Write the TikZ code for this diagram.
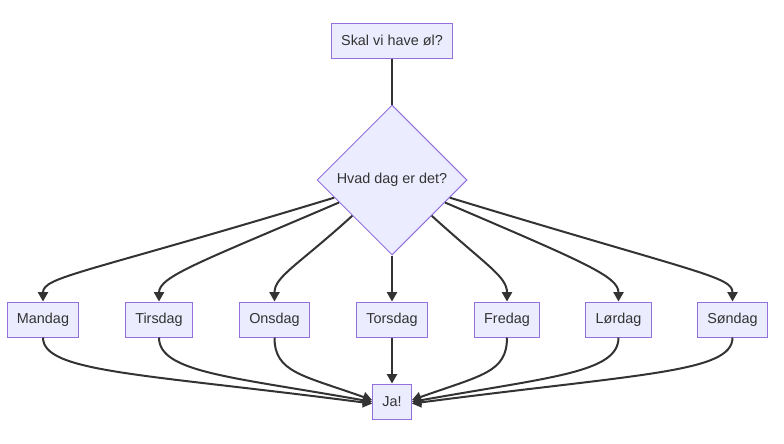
\documentclass[tikz,border=0pt]{standalone}
\usepackage{fontspec}
\setmainfont{Liberation Sans}
\usetikzlibrary{shapes.geometric}
\usetikzlibrary{arrows.meta}
\definecolor{boxfill}{HTML}{ECECFF}
\definecolor{boxline}{HTML}{9370DB}
\definecolor{linecol}{HTML}{333333}
\tikzset{
  daybox/.style={rectangle,draw=boxline,fill=boxfill,line width=0.75pt,text=linecol,
    font=\fontsize{10.8}{13}\selectfont,inner xsep=7.3pt,minimum height=26.25pt},
  askbox/.style={diamond,draw=boxline,fill=boxfill,line width=0.75pt,text=linecol,
    font=\fontsize{10.8}{13}\selectfont,inner sep=0pt,minimum size=112.5pt},
  edge/.style={draw=linecol,line width=1.5pt,-{Triangle[length=7pt,width=7.5pt]}},
}
\begin{document}
\begin{tikzpicture}[x=0.75pt,y=0.75pt]
\useasboundingbox (0,0) rectangle (784,-443);

\node[daybox] (q) at (392,-40.5) {Skal vi have øl?};
\node[askbox] (d) at (392,-180) {Hvad dag er det?};

\node[daybox] (man) at (43,-319.5) {Mandag};
\node[daybox] (tir) at (159,-319.5) {Tirsdag};
\node[daybox] (ons) at (274.5,-319.5) {Onsdag};
\node[daybox] (tor) at (392,-319.5) {Torsdag};
\node[daybox] (fre) at (507,-319.5) {Fredag};
\node[daybox] (lor) at (618.5,-319.5) {Lørdag};
\node[daybox] (son) at (732.5,-319.5) {Søndag};

\node[daybox] (ja) at (392,-401.5) {Ja!};

% question to diamond
\draw[draw=linecol,line width=1.5pt] (q.south) -- (d.north);

% diamond to days
\draw[edge] (d.197) .. controls +(-250,-76) and +(0,25) .. (man.north);
\draw[edge] (d.203) .. controls +(-140,-60) and +(0,25) .. (tir.north);
\draw[edge] (d.222) .. controls +(-55,-50) and +(0,25) .. (ons.north);
\draw[edge] (d.south) -- (tor.north);
\draw[edge] (d.318) .. controls +(55,-50) and +(0,25) .. (fre.north);
\draw[edge] (d.337) .. controls +(140,-60) and +(0,25) .. (lor.north);
\draw[edge] (d.343) .. controls +(250,-76) and +(0,25) .. (son.north);

% days to answer
\draw[edge] (man.south) .. controls +(0,-35) and +(-230,30) .. (ja.186);
\draw[edge] (tir.south) .. controls +(0,-35) and +(-140,25) .. (ja.181);
\draw[edge] (ons.south) .. controls +(0,-35) and +(-70,25) .. (ja.176);
\draw[edge] (tor.south) -- (ja.north);
\draw[edge] (fre.south) .. controls +(0,-35) and +(70,25) .. (ja.4);
\draw[edge] (lor.south) .. controls +(0,-35) and +(140,25) .. (ja.359);
\draw[edge] (son.south) .. controls +(0,-35) and +(230,30) .. (ja.354);

\end{tikzpicture}
\end{document}
